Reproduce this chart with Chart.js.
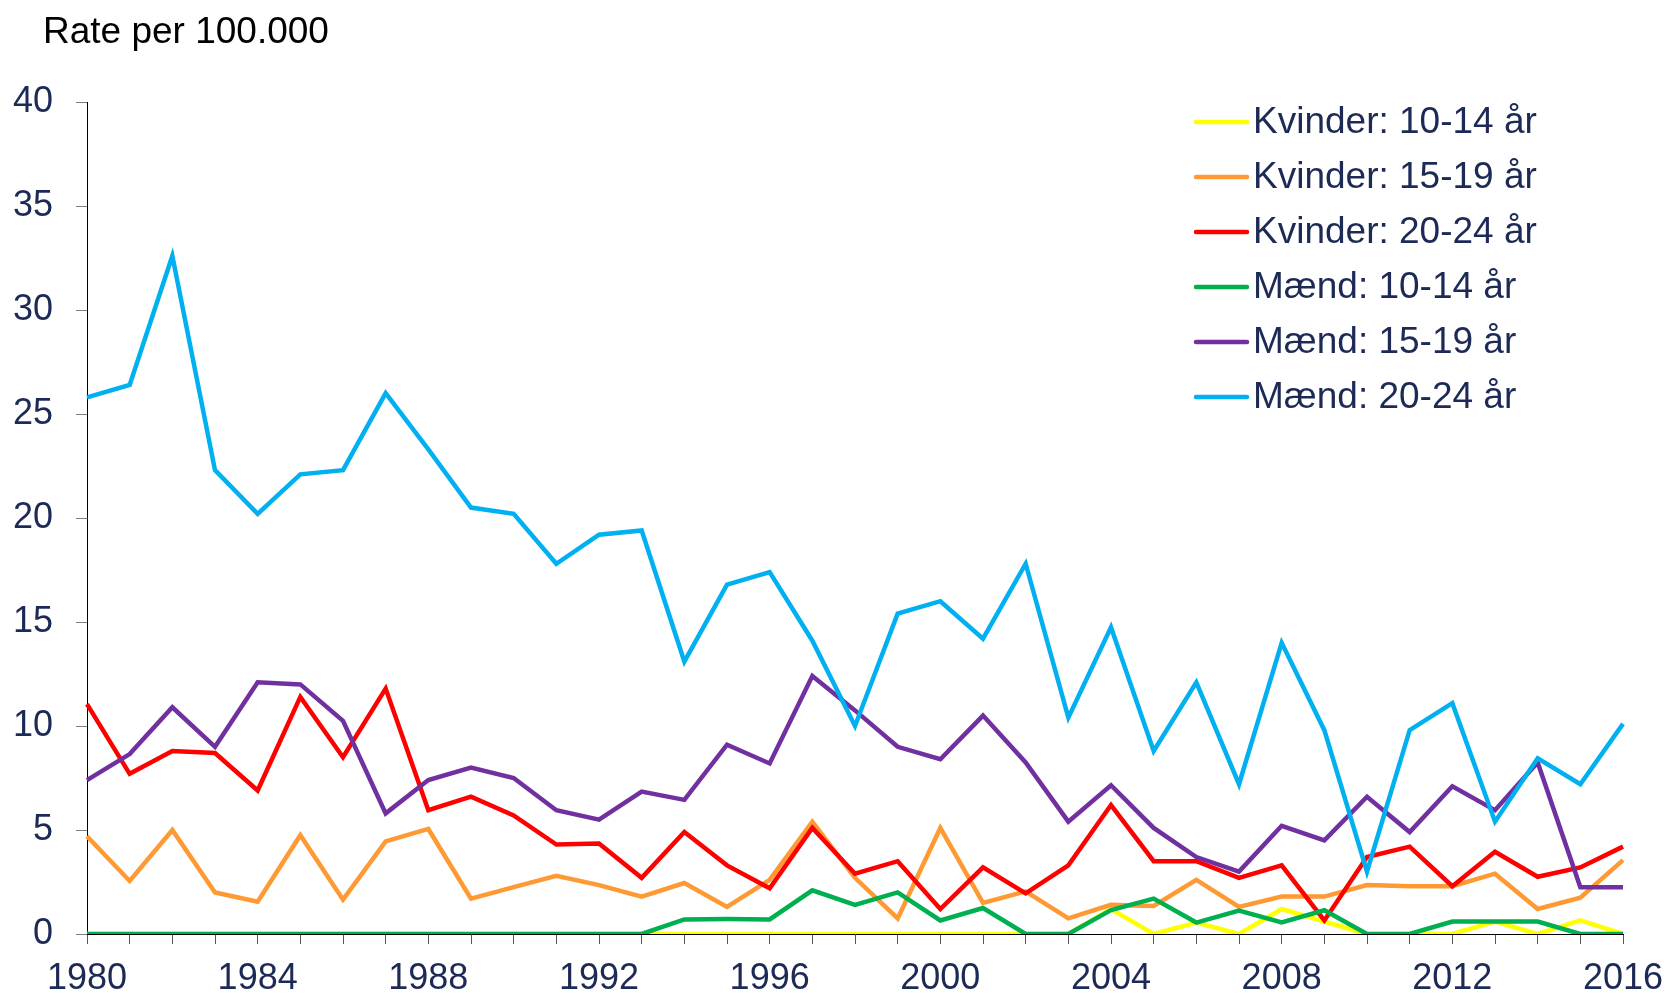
<!DOCTYPE html>
<html>
<head>
<meta charset="utf-8">
<title>Rate per 100.000</title>
<script src="https://cdn.jsdelivr.net/npm/chart.js@4.4.1/dist/chart.umd.min.js"></script>
<style>
  html, body { margin: 0; padding: 0; background: #fff; }
  .wrap { position: relative; width: 1671px; height: 995px; }
</style>
</head>
<body>
<div class="wrap"><canvas id="chart"></canvas></div>
<script>
/* ---------- data ---------- */
const years = [];
for (let y = 1980; y <= 2016; y++) years.push(String(y));

const yTicks = [0, 5, 10, 15, 20, 25, 30, 35, 40];

const seriesLabels = [
  'Kvinder: 10-14 år', 'Kvinder: 15-19 år', 'Kvinder: 20-24 år',
  'Mænd: 10-14 år', 'Mænd: 15-19 år', 'Mænd: 20-24 år'
];
const seriesColors = ['#FFFF00', '#FF9933', '#FF0000', '#00B050', '#7030A0', '#00B0F0'];

const kvinder1014 = [0, 0, 0, 0, 0, 0, 0, 0, 0, 0, 0, 0, 0, 0, 0, 0, 0, 0, 0, 0,
  0, 0, 0, 0, 1.2, 0, 0.55, 0, 1.2, 0.6, 0, 0, 0, 0.6, 0, 0.65, 0];
const kvinder1519 = [4.7, 2.55, 5.0, 2.0, 1.55, 4.75, 1.65, 4.45, 5.05, 1.7, 2.25, 2.8, 2.35, 1.8,
  2.45, 1.3, 2.6, 5.4, 2.7, 0.75, 5.1, 1.5, 2.05, 0.75, 1.4, 1.35, 2.6, 1.3, 1.8, 1.8,
  2.35, 2.3, 2.3, 2.9, 1.2, 1.75, 3.55];
const kvinder2024 = [11.05, 7.7, 8.8, 8.7, 6.9, 11.4, 8.5, 11.8, 5.95, 6.6, 5.7, 4.3, 4.35, 2.7,
  4.9, 3.3, 2.2, 5.1, 2.9, 3.5, 1.2, 3.2, 1.95, 3.3, 6.2, 3.5, 3.5, 2.7, 3.3, 0.65,
  3.7, 4.2, 2.3, 3.95, 2.75, 3.2, 4.2];
const maend1014 = [0, 0, 0, 0, 0, 0, 0, 0, 0, 0, 0, 0, 0, 0, 0.7, 0.72, 0.7, 2.1, 1.4, 2.0,
  0.65, 1.25, 0, 0, 1.15, 1.7, 0.55, 1.12, 0.56, 1.14, 0, 0, 0.6, 0.6, 0.6, 0, 0];
const maend1519 = [7.4, 8.65, 10.9, 9.0, 12.1, 12.0, 10.25, 5.8, 7.4, 8.0, 7.5, 5.95, 5.5, 6.85,
  6.45, 9.1, 8.2, 12.4, 10.75, 9.0, 8.4, 10.5, 8.25, 5.4, 7.15, 5.1, 3.7, 3.0, 5.2, 4.5,
  6.6, 4.9, 7.1, 5.95, 8.25, 2.25, 2.25];
const maend2024 = [25.8, 26.4, 32.6, 22.3, 20.2, 22.1, 22.3, 26.0, 23.3, 20.5, 20.2, 17.8, 19.2, 19.4,
  13.1, 16.8, 17.4, 14.1, 10.0, 15.4, 16.0, 14.2, 17.8, 10.4, 14.75, 8.8, 12.1, 7.2, 14.0, 9.8,
  3.0, 9.8, 11.1, 5.4, 8.45, 7.2, 10.1];

const seriesValues = [kvinder1014, kvinder1519, kvinder2024, maend1014, maend1519, maend2024];

/* ---------- styling ---------- */
const FONT = '"Liberation Sans", Arial, Helvetica, sans-serif';
const NAVY = '#1C2A55';

// title + legend drawn on the canvas, Excel style
const decorPlugin = {
  id: 'decor',
  afterDraw(chart) {
    const ctx = chart.ctx;
    ctx.save();
    ctx.fillStyle = '#000';
    ctx.font = '37px ' + FONT;
    ctx.textBaseline = 'alphabetic';
    ctx.textAlign = 'left';
    ctx.fillText('Rate per 100.000', 43, 43);

    ctx.font = '37px ' + FONT;
    ctx.textBaseline = 'middle';
    chart.data.datasets.forEach((ds, i) => {
      const y = 122 + i * 55;
      ctx.strokeStyle = ds.borderColor;
      ctx.lineWidth = 4.5;
      ctx.lineCap = 'round';
      ctx.beginPath();
      ctx.moveTo(1196, y);
      ctx.lineTo(1247, y);
      ctx.stroke();
      ctx.fillStyle = NAVY;
      ctx.fillText(ds.label, 1253, y + 1);
    });
    ctx.restore();
  }
};

const datasets = seriesLabels.map((label, i) => ({
  label,
  data: seriesValues[i],
  borderColor: seriesColors[i],
  backgroundColor: seriesColors[i],
  borderWidth: 4.5,
  pointRadius: 0,
  tension: 0,
  fill: false,
  order: seriesLabels.length - i   // later series on top
}));

new Chart(document.getElementById('chart'), {
  type: 'line',
  data: { labels: years, datasets },
  options: {
    responsive: true,
    maintainAspectRatio: false,
    animation: false,
    layout: { padding: { left: 0, right: 48, top: 102, bottom: 0 } },
    plugins: {
      legend: { display: false },
      tooltip: { enabled: false }
    },
    scales: {
      x: {
        offset: false,
        grid: { drawOnChartArea: false, drawTicks: true, tickLength: 10, color: '#555', lineWidth: 1 },
        border: { display: true, color: '#000', width: 1 },
        afterFit: (axis) => { axis.height = 61; axis.paddingRight = 0; axis.paddingLeft = 0; },
        ticks: {
          autoSkip: false, maxRotation: 0, minRotation: 0, padding: 13,
          color: NAVY, font: { family: FONT, size: 36 },
          callback: (v, i) => (i % 4 === 0 ? years[i] : '')
        }
      },
      y: {
        min: yTicks[0],
        max: yTicks[yTicks.length - 1],
        grid: { drawOnChartArea: false, drawTicks: true, tickLength: 11, color: '#7f7f7f', lineWidth: 1 },
        border: { display: true, color: '#000', width: 1 },
        afterFit: (axis) => { axis.width = 87; },
        afterBuildTicks: (axis) => { axis.ticks = yTicks.map(v => ({ value: v })); },
        ticks: { padding: 23, color: NAVY, font: { family: FONT, size: 36 } }
      }
    }
  },
  plugins: [decorPlugin]
});
</script>
</body>
</html>
